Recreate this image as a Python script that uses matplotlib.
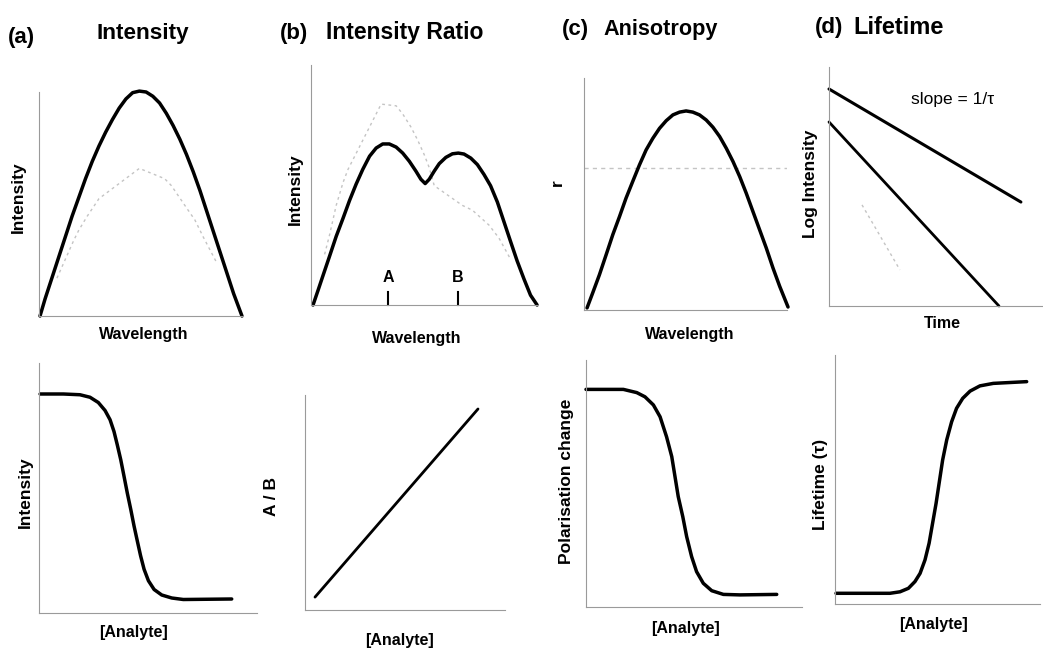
import matplotlib
matplotlib.use("Agg")
import matplotlib.pyplot as plt

plt.rcParams['font.family'] = ['Liberation Sans', 'DejaVu Sans']

W, H = 1043, 651

# ---- data (read off the schematic, each axis scaled 0-100) ----
# (a) intensity vs wavelength
a_wl = [0.5, 3.0, 6.3, 9.6, 12.9, 16.2, 19.5, 22.8, 26.1, 29.4, 32.7, 36.0, 39.3,
        42.6, 45.9, 49.2, 52.5, 55.8, 59.1, 62.4, 65.7, 69.0, 72.3, 75.6, 78.9,
        82.2, 85.5, 88.8, 92.1, 95.4, 99.5]
a_int = [0.0, 7.7, 16.9, 26.1, 35.3, 44.5, 52.9, 61.3, 69.0, 75.9, 82.1, 87.7, 92.8,
         96.9, 99.7, 100.4, 100.0, 98.1, 95.1, 90.5, 85.1, 79.0, 72.1, 64.4, 56.0,
         46.8, 37.6, 28.4, 19.2, 10.0, 0.0]
a_wl_faint = [8.8, 17.0, 19.5, 23.6, 29.4, 49.2, 61.6, 64.9, 72.3, 76.4, 80.5, 87.1]
a_int_faint = [16.9, 33.7, 38.3, 44.5, 52.4, 65.9, 61.3, 58.2, 48.3, 42.9, 35.3, 23.8]

# (b) intensity ratio, two-band emission
b_wl = [0.9, 3.1, 5.3, 8.2, 11.1, 14.1, 17.0, 19.9, 22.8, 25.8, 28.7, 31.6, 34.5,
        37.5, 40.4, 43.3, 46.2, 48.4, 50.3, 52.1, 54.3, 56.5, 59.4, 62.3, 64.9,
        67.4, 70.4, 73.3, 76.2, 79.1, 82.1, 85.0, 87.9, 90.8, 93.8, 96.7, 99.6]
b_int = [0.0, 6.1, 12.3, 20.4, 28.6, 36.1, 43.6, 50.4, 56.5, 62.0, 65.4, 67.1, 67.1,
         65.8, 63.3, 59.9, 55.8, 52.4, 50.6, 52.4, 55.8, 58.9, 61.5, 63.0, 63.3,
         62.9, 61.2, 58.5, 54.4, 49.7, 42.9, 34.7, 26.5, 18.4, 10.9, 4.1, 0.0]
b_wl_faint = [6.0, 8.2, 11.1, 14.1, 16.3, 30.9, 37.5, 40.4, 44.0, 47.0, 49.9, 52.1,
              54.3, 66.7, 71.1, 78.4, 82.8, 87.9]
b_int_faint = [21.1, 29.3, 41.5, 51.0, 56.5, 83.7, 83.0, 79.6, 74.2, 68.7, 62.6, 57.2,
               49.7, 41.5, 39.5, 33.3, 27.9, 19.1]
band_pos = [33.9, 64.8]
band_names = ['A', 'B']

# (c) anisotropy
c_wl = [1.5, 4.3, 7.6, 10.9, 14.2, 17.5, 20.7, 24.0, 27.3, 30.6, 33.9, 37.2, 40.5,
        43.8, 47.1, 50.3, 53.6, 56.9, 60.2, 63.5, 66.8, 70.1, 73.4, 76.7, 79.9,
        83.2, 86.5, 89.8, 93.1, 96.4, 100.5]
c_int = [0.9, 7.4, 15.2, 23.8, 32.5, 40.3, 48.2, 55.4, 62.5, 69.0, 74.0, 78.3, 81.6,
         84.1, 85.3, 85.8, 85.3, 84.1, 81.9, 78.8, 74.8, 69.7, 64.0, 57.5, 50.4,
         42.5, 34.6, 26.7, 18.1, 10.2, 1.3]
c_r_level = 61.2

# (d) lifetime, log intensity vs time
d_t_long = [0.0, 90.1]
d_log_long = [90.8, 43.5]
d_t_short = [0.0, 79.8]
d_log_short = [77.0, 0.0]
d_t_faint = [15.5, 33.3]
d_log_faint = [42.3, 15.1]

# bottom row: response vs [analyte]
a2_conc = [0.5, 11.2, 18.8, 23.4, 27.2, 30.3, 32.6, 34.4, 35.9, 37.5, 39.0, 40.5,
           42.1, 43.6, 45.1, 46.6, 48.2, 50.2, 52.8, 56.3, 60.9, 66.2, 88.4]
a2_int = [87.6, 87.6, 87.3, 86.3, 84.2, 81.0, 77.3, 72.6, 67.3, 61.3, 54.7, 48.0,
          41.4, 34.8, 28.8, 22.9, 17.5, 12.9, 9.4, 7.2, 6.0, 5.4, 5.6]

b2_conc = [5.0, 86.5]
b2_ratio = [6.0, 93.5]

c2_conc = [0.0, 17.3, 23.5, 27.3, 31.2, 34.3, 37.3, 39.7, 41.2, 42.7, 44.8, 46.6,
           48.9, 51.2, 54.3, 58.2, 63.6, 71.3, 88.3]
c2_pol = [88.1, 88.1, 86.8, 85.1, 81.8, 77.0, 68.9, 60.9, 52.8, 44.7, 36.6, 28.5,
          20.4, 14.3, 9.6, 6.6, 5.1, 4.9, 5.1]

d2_conc = [0.5, 26.8, 31.7, 35.8, 39.0, 41.5, 43.9, 45.9, 47.6, 49.3, 50.9, 52.5,
           54.5, 56.9, 59.3, 62.3, 65.9, 70.7, 77.2, 93.5]
d2_tau = [4.3, 4.3, 4.9, 6.3, 9.0, 12.3, 17.7, 24.4, 32.4, 40.4, 49.1, 57.8,
          65.9, 73.2, 78.6, 82.6, 85.5, 87.6, 88.6, 89.3]

fig = plt.figure(figsize=(W / 100, H / 100), dpi=100)

SPINE = '#9a9a9a'
FAINT = '#c4c4c4'
LW = 2.5


def panel(x0, x1, ytop, ybot):
    ax = fig.add_axes([x0 / W, 1 - ybot / H, (x1 - x0) / W, (ybot - ytop) / H])
    ax.set_xlim(0, 100)
    ax.set_ylim(0, 100)
    for s in ('top', 'right'):
        ax.spines[s].set_visible(False)
    for s in ('left', 'bottom'):
        ax.spines[s].set_color(SPINE)
        ax.spines[s].set_linewidth(0.8)
    ax.set_xticks([])
    ax.set_yticks([])
    ax.patch.set_alpha(0)
    return ax


def ftext(x, y, s, ha='center', **kw):
    fig.text(x / W, 1 - y / H, s, ha=ha, va='center', **kw)


def curve(ax, x, y, lw=LW, **kw):
    ax.plot(x, y, color='black', lw=lw, clip_on=False,
            solid_joinstyle='round', solid_capstyle='round', **kw)


def faint(ax, x, y):
    ax.plot(x, y, color=FAINT, lw=1.0, ls=(0, (2, 2.5)), clip_on=False)


# (a) top
ax = panel(39, 243, 92, 316)
faint(ax, a_wl_faint, a_int_faint)
curve(ax, a_wl, a_int)

# (b) top
ax = panel(311, 538, 65, 305)
faint(ax, b_wl_faint, b_int_faint)
curve(ax, b_wl, b_int)
for pos, name in zip(band_pos, band_names):
    ax.plot([pos, pos], [0, 5.4], color='black', lw=1.5, clip_on=False)
    ax.text(pos, 8.5, name, ha='center', va='bottom', fontsize=11.5, fontweight='bold')

# (c) top
ax = panel(584, 787, 78, 310)
ax.axhline(c_r_level, color=FAINT, lw=1.0, ls=(0, (3, 3)))
curve(ax, c_wl, c_int)

# (d) top
ax = panel(829, 1042, 67, 306)
faint(ax, d_t_faint, d_log_faint)
curve(ax, d_t_long, d_log_long, lw=2.2)
curve(ax, d_t_short, d_log_short, lw=2.0)
ax.text(58.2, 86.2, 'slope = 1/\u03c4', ha='center', va='center', fontsize=12.5)

# bottom row
ax = panel(39, 257, 363, 613)
curve(ax, a2_conc, a2_int)

ax = panel(305, 505, 395, 610)
curve(ax, b2_conc, b2_ratio, lw=2.0)

ax = panel(586, 802, 360, 607)
curve(ax, c2_conc, c2_pol)

ax = panel(835, 1040, 355, 604)
curve(ax, d2_conc, d2_tau)

# titles
tb = dict(fontweight='bold', ha='left')
ftext(8, 38, '(a)', fontsize=16, **tb)
ftext(97, 34, 'Intensity', fontsize=16.2, **tb)
ftext(280, 34, '(b)', fontsize=16, **tb)
ftext(326, 32, 'Intensity Ratio', fontsize=16.5, **tb)
ftext(562, 29, '(c)', fontsize=16, **tb)
ftext(603, 29, 'Anisotropy', fontsize=15.6, **tb)
ftext(815, 27, '(d)', fontsize=16, **tb)
ftext(853, 27, 'Lifetime', fontsize=17, **tb)

# axis labels
lab = dict(fontsize=11.5, fontweight='bold')
vlab = dict(fontsize=12.5, fontweight='bold', rotation=90)
ftext(144, 334, 'Wavelength', **lab)
ftext(417, 338, 'Wavelength', **lab)
ftext(690, 335, 'Wavelength', **lab)
ftext(942, 323, 'Time', **lab)
ftext(18, 197, 'Intensity', **vlab)
ftext(295, 189, 'Intensity', **vlab)
ftext(557, 183, 'r', **vlab)
ftext(810, 184, 'Log Intensity', **vlab)

ftext(134, 633, '[Analyte]', **lab)
ftext(400, 640, '[Analyte]', **lab)
ftext(685, 628, '[Analyte]', **lab)
ftext(934, 625, '[Analyte]', **lab)
ftext(25, 492, 'Intensity', **vlab)
ftext(271, 496, 'A / B', **vlab)
ftext(566, 481, 'Polarisation change', **vlab)
ftext(820, 484, 'Lifetime (\u03c4)', **vlab)

fig.savefig('out.png', dpi=100)
